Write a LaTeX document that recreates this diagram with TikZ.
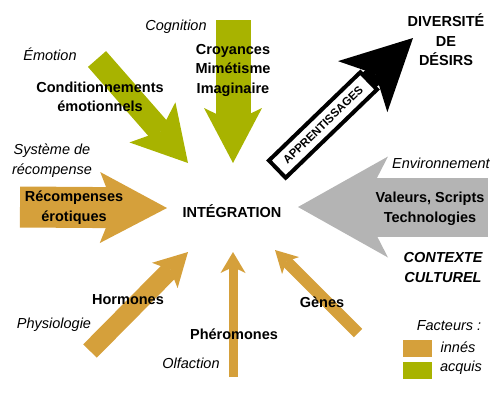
\documentclass[tikz,border=0pt]{standalone}
\usepackage{fontspec}
\setmainfont{Liberation Sans}
\usetikzlibrary{arrows.meta}
\definecolor{acquis}{HTML}{A8B300}
\definecolor{innes}{HTML}{D5A03B}
\definecolor{culture}{HTML}{B4B4B4}
\tikzset{
  bloc/.style={line cap=butt, -{Stealth[line width=0pt 0 0,#1]}},
  titre/.style={font=\fontsize{14.5}{19.5}\selectfont\bfseries, align=center, inner sep=0pt},
  source/.style={font=\fontsize{14.5}{20}\selectfont\itshape, align=center, inner sep=0pt},
}

\begin{document}
\begin{tikzpicture}[x=1pt,y=-1pt]
\useasboundingbox (0,0) rectangle (500,394);
% tails and tips of the arrows
\coordinate (emo-a) at (97,59);   \coordinate (emo-b) at (188,163);
\coordinate (cog-a) at (233,20);  \coordinate (cog-b) at (233,163);
\coordinate (rec-a) at (20,207);  \coordinate (rec-b) at (167,208);
\coordinate (hor-a) at (90,351);  \coordinate (hor-b) at (188,252);
\coordinate (phe-a) at (233,377); \coordinate (phe-b) at (233,252);
\coordinate (gen-a) at (358,333); \coordinate (gen-b) at (275,250);
\coordinate (env-a) at (488,207); \coordinate (env-b) at (298,207);
\coordinate (app-a) at (323,125); \coordinate (app-b) at (413,38);
% acquired
\draw[acquis, line width=24pt, bloc={length=54pt,width=61pt,inset=12pt}] (emo-a) -- (emo-b);
\draw[acquis, line width=35pt, bloc={length=55pt,width=58pt,inset=14pt}] (cog-a) -- (cog-b);
% innate
\draw[innes, line width=41pt, bloc={length=67pt,width=71pt,inset=14pt}] (rec-a) -- (rec-b);
\draw[innes, line width=19pt, bloc={length=33pt,width=36pt,inset=8pt}] (hor-a) -- (hor-b);
\draw[innes, line width=9pt, bloc={length=21pt,width=25pt,inset=6pt}] (phe-a) -- (phe-b);
\draw[innes, line width=12pt, bloc={length=22pt,width=24pt,inset=6pt}] (gen-a) -- (gen-b);
% culture
\draw[culture, line width=59pt, bloc={length=90pt,width=101pt,inset=26pt}] (env-a) -- (env-b);
\draw[black, line width=20pt, bloc={length=70pt,width=71pt,inset=18pt}] (app-a) -- (app-b);
\node[draw, line width=4pt, fill=white, rotate=44, minimum width=127pt, minimum height=24pt,
  inner sep=0pt, font=\fontsize{11.5}{12}\selectfont\bfseries] (appr) at (app-a) {APPRENTISSAGES};
% labels
\node[titre] (integ) at (232,211) {INTÉGRATION};
\node[titre] (desirs) at (446,40) {DIVERSITÉ\\DE\\DÉSIRS};
\node[source] (cogn) at (176,27) {Cognition};
\node[titre] (croy) at (233,70) {Croyances\\Mimétisme\\Imaginaire};
\node[source] (emot) at (50,54) {Émotion};
\node[titre] (cond) at (100,97) {Conditionnements\\émotionnels};
\node[source] (syst) at (52,161) {Système de\\récompense};
\node[titre] (recomp) at (74,207.5) {Récompenses\\érotiques};
\node[source] (envi) at (441,163) {Environnement};
\node[titre] (valeurs) at (430,209) {Valeurs, Scripts\\Technologies};
\node[titre, font=\fontsize{14.5}{20}\selectfont\bfseries\itshape] (ctx) at (443,268) {CONTEXTE\\CULTUREL};
\node[titre] (horm) at (128,300) {Hormones};
\node[source] (physio) at (54,325) {Physiologie};
\node[titre] (phero) at (234,334) {Phéromones};
\node[source] (olf) at (191,363) {Olfaction};
\node[titre] (genes) at (322,302) {Gènes};
% legend
\node[source] (fact) at (449,326) {Facteurs :};
\node[fill=innes, minimum width=29pt, minimum height=17pt, inner sep=0pt] (sw-innes) at (417.5,348.5) {};
\node[fill=acquis, minimum width=29pt, minimum height=17pt, inner sep=0pt] (sw-acquis) at (417.5,370) {};
\node[source] (l-innes) at (458,347) {innés};
\node[source] (l-acquis) at (461,368) {acquis};
\end{tikzpicture}
\end{document}
